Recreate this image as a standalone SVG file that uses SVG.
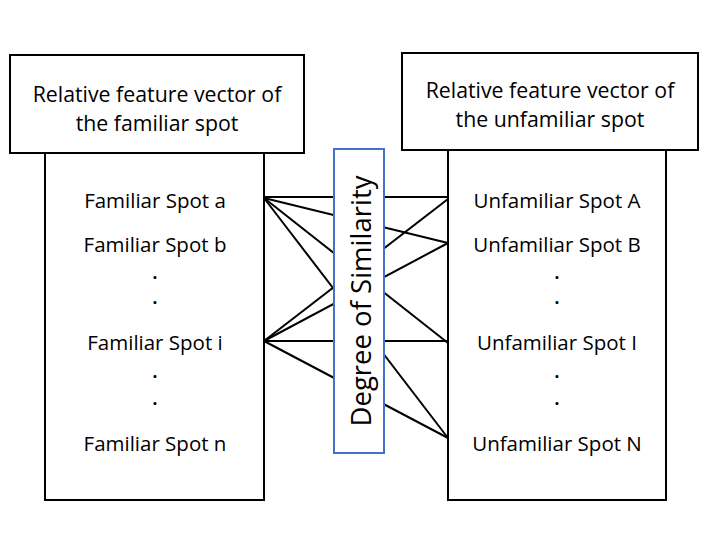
<svg xmlns="http://www.w3.org/2000/svg" width="720" height="540" viewBox="0 0 720 540">
<style>
.box{fill:#fff;stroke:#000;stroke-width:2}
.t{font-family:"Open Sans","Liberation Sans",sans-serif;font-size:20.5px;fill:#000;text-anchor:middle}
.h{font-size:21.3px}
.d{font-size:17px;font-weight:bold}
.c line{stroke:#000;stroke-width:2}
</style>
<rect width="720" height="540" fill="#fff"/>
<g id="left-header"><rect class="box" x="10" y="55" width="294" height="98"/>
<text class="t h" x="157" y="102">Relative feature vector of</text>
<text class="t h" x="157" y="131">the familiar spot</text></g>
<g id="right-header"><rect class="box" x="402" y="53" width="296" height="97"/>
<text class="t h" x="550" y="98">Relative feature vector of</text>
<text class="t h" x="550" y="127">the unfamiliar spot</text></g>
<g id="left-list"><rect class="box" x="45" y="153" width="219" height="347"/>
<text class="t" x="155" y="208">Familiar Spot a</text>
<text class="t" x="155" y="252">Familiar Spot b</text>
<text class="t d" x="155" y="279">.</text>
<text class="t d" x="155" y="304">.</text>
<text class="t" x="155" y="350">Familiar Spot i</text>
<text class="t d" x="155" y="378">.</text>
<text class="t d" x="155" y="405">.</text>
<text class="t" x="155" y="451">Familiar Spot n</text></g>
<g id="right-list"><rect class="box" x="448" y="150" width="218" height="350"/>
<text class="t" x="557" y="208">Unfamiliar Spot A</text>
<text class="t" x="557" y="252">Unfamiliar Spot B</text>
<text class="t d" x="557" y="279">.</text>
<text class="t d" x="557" y="304">.</text>
<text class="t" x="557" y="350">Unfamiliar Spot I</text>
<text class="t d" x="557" y="378">.</text>
<text class="t d" x="557" y="405">.</text>
<text class="t" x="557" y="451">Unfamiliar Spot N</text></g>
<g id="connectors" class="c">
<line x1="264" y1="197" x2="448" y2="197"/>
<line x1="264" y1="198" x2="448" y2="243"/>
<line x1="264" y1="198" x2="448" y2="343"/>
<line x1="264" y1="198" x2="448" y2="438"/>
<line x1="264" y1="341" x2="448" y2="199"/>
<line x1="264" y1="341" x2="448" y2="243"/>
<line x1="264" y1="341" x2="448" y2="341"/>
<line x1="264" y1="341" x2="448" y2="438"/>
</g>
<g id="similarity"><rect x="334" y="149" width="50" height="304" fill="#fff" stroke="#4472C4" stroke-width="2"/>
<text transform="translate(371,301) rotate(-90)" style="font-family:'Open Sans','Liberation Sans',sans-serif;font-size:27.5px;text-anchor:middle">Degree of Similarity</text></g>
</svg>
